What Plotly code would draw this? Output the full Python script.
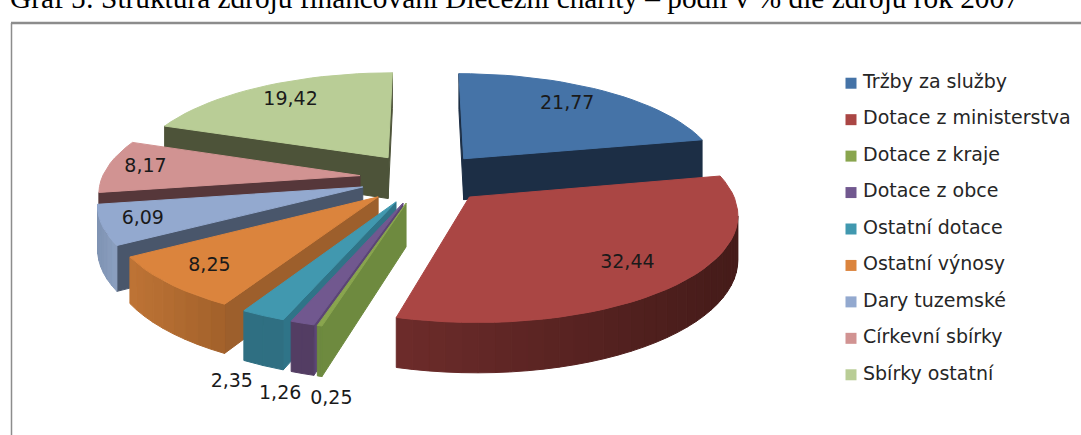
import math
import plotly.graph_objects as go

categories = ["Tržby za služby", "Dotace z ministerstva", "Dotace z kraje", "Dotace z obce",
              "Ostatní dotace", "Ostatní výnosy", "Dary tuzemské", "Církevní sbírky", "Sbírky ostatní"]
values = [21.77, 32.44, 0.25, 1.26, 2.35, 8.25, 6.09, 8.17, 19.42]
value_labels = ["21,77", "32,44", "0,25", "1,26", "2,35", "8,25", "6,09", "8,17", "19,42"]

top_colors = ["#4573A7", "#AA4644", "#89A54E", "#71588F", "#4198AF", "#DB843D", "#93A9CF", "#D19392", "#B9CD96"]
face_colors = ["#1C2E45", "#6E2C2B", "#6E8A3F", "#5B4575", "#2F7488", "#9D5F2C", "#49566B", "#56373A", "#4D5339"]
arc_left = ["#1C2E45", "#6E2C2B", "#6E8A3F", "#533D63", "#2F6F82", "#BF7436", "#7F93B3", "#7F5F5F", "#6F7F55"]
arc_right = ["#1C2E45", "#451B19", "#6E8A3F", "#533D63", "#2F6F82", "#A4622B", "#8A9EBE", "#7F5F5F", "#6F7F55"]
draw_order = [0, 8, 7, 6, 5, 4, 3, 2, 1]
label_radius = [.76, .78, 1.44, 1.44, 1.42, .82, .85, .85, .78]
label_shift = [-2, 0, -7.3, -4.2, -5.2, 0, 0, 0, 1]

CX, CY, RX, RY, K, PULL, DEPTH = 424, 178, 258, 102, .14, .25, 42
W, H = 1081, 435
TITLE = "Graf 5: Struktura zdrojů financování Diecézní charity – podíl v % dle zdrojů rok 2007"


def project(u, v, drop=0):
    s = 1 / (1 - K * v)
    return CX + u * RX * s, CY + v * RY * s + drop * s


def polar(deg, r=1):
    a = math.radians(deg)
    return r * math.sin(a), -r * math.cos(a)


def area(poly):
    n = len(poly)
    return sum(poly[i][0] * poly[(i + 1) % n][1] - poly[(i + 1) % n][0] * poly[i][1] for i in range(n))


def mix(c1, c2, t):
    a = [int(c1[i:i + 2], 16) for i in (1, 3, 5)]
    b = [int(c2[i:i + 2], 16) for i in (1, 3, 5)]
    return "#%02x%02x%02x" % tuple(round(x + (y - x) * t) for x, y in zip(a, b))


fig = go.Figure()


def poly_trace(poly, color, name=None, hover=False):
    xs = [p[0] for p in poly] + [poly[0][0]]
    ys = [p[1] for p in poly] + [poly[0][1]]
    fig.add_trace(go.Scatter(x=xs, y=ys, mode="lines", fill="toself", fillcolor=color,
                             line=dict(color=color, width=1), showlegend=False, name=name,
                             hoveron="fills", hoverinfo="name" if hover else "skip"))


total = sum(values)
starts, acc = [], 0
for val in values:
    starts.append(acc / total * 360)
    acc += val

label_x, label_y = [], []
for i in range(len(values)):
    a0 = starts[i]
    a1 = a0 + values[i] / total * 360
    mid = (a0 + a1) / 2
    pu, pv = polar(mid, PULL)
    lu, lv = polar(mid + label_shift[i], label_radius[i])
    x, y = project(pu + lu, pv + lv)
    label_x.append(x)
    label_y.append(y)

for i in draw_order:
    a0 = starts[i]
    a1 = a0 + values[i] / total * 360
    mid = (a0 + a1) / 2
    pu, pv = polar(mid, PULL)
    steps = max(2, int((a1 - a0) / 3))
    pts = [polar(a0 + (a1 - a0) * j / steps) for j in range(steps + 1)]
    rim = [project(pu + u, pv + v) for u, v in pts]
    rim_low = [project(pu + u, pv + v, DEPTH) for u, v in pts]
    apex, apex_low = project(pu, pv), project(pu, pv, DEPTH)
    start_q = [apex, rim[0], rim_low[0], apex_low]
    end_q = [apex, rim[-1], rim_low[-1], apex_low]
    if area(start_q) < 0:
        poly_trace(start_q, face_colors[i])
    if area(end_q) > 0:
        poly_trace(end_q, face_colors[i])
    xmin, xmax = min(p[0] for p in rim), max(p[0] for p in rim)
    for j in range(steps):
        q = [rim[j], rim[j + 1], rim_low[j + 1], rim_low[j]]
        if area(q) < 0:
            t = (rim[j][0] - xmin) / max(xmax - xmin, 1)
            poly_trace(q, mix(arc_left[i], arc_right[i], t))
    poly_trace([apex] + rim, top_colors[i], categories[i], True)

fig.add_trace(go.Scatter(x=label_x, y=label_y, mode="text", text=value_labels, showlegend=False,
                         textfont=dict(family="DejaVu Sans", size=19, color="#1a1a1a"), hoverinfo="skip"))

rows = list(range(len(categories)))
fig.add_trace(go.Scatter(x=[0] * len(categories), y=rows, xaxis="x2", yaxis="y2", mode="markers", cliponaxis=False,
                         marker=dict(symbol="square", size=11, color=top_colors), showlegend=False,
                         hoverinfo="skip"))
fig.add_trace(go.Scatter(x=[12 / (W - 851)] * len(categories), y=rows, xaxis="x2", yaxis="y2", mode="text",
                         text=categories, textposition="middle right", cliponaxis=False, showlegend=False,
                         textfont=dict(family="DejaVu Sans", size=19, color="#262626"), hoverinfo="skip"))

fig.add_annotation(x=8, y=16, xref="x", yref="y", xanchor="left", yanchor="bottom", showarrow=False,
                   text=TITLE, font=dict(family="Liberation Serif", size=29.3, color="black"))

frame = "#8c8c8c"
fig.add_shape(type="line", x0=11, x1=W, y0=23, y1=23, xref="x", yref="y", line=dict(color=frame, width=2.5))
fig.add_shape(type="line", x0=11.5, x1=11.5, y0=23, y1=H, xref="x", yref="y", line=dict(color=frame, width=1.5))

fig.update_layout(
    width=W, height=H, margin=dict(l=0, r=0, t=0, b=0), showlegend=False,
    paper_bgcolor="white", plot_bgcolor="white",
    xaxis=dict(range=[0, W], visible=False, domain=[0, 1], fixedrange=True),
    yaxis=dict(range=[H, 0], visible=False, domain=[0, 1], fixedrange=True),
    xaxis2=dict(range=[0, 1], visible=False, domain=[851 / W, 1], anchor="y2", fixedrange=True),
    yaxis2=dict(range=[8.5, -0.5], visible=False, domain=[1 - 393 / H, 1 - 65 / H], anchor="x2", fixedrange=True),
)
fig.write_html("out.html", post_script="document.body.style.margin='0';", config={"displayModeBar": False})
